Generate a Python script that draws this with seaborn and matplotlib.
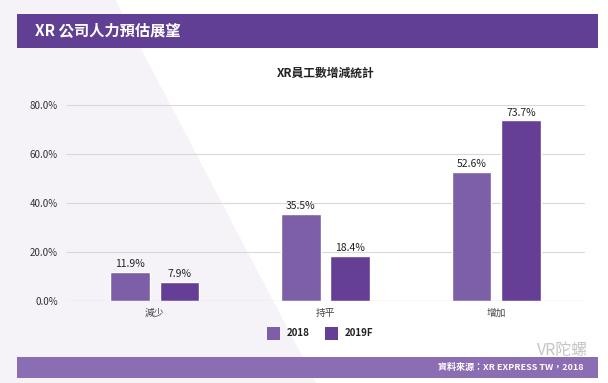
import numpy as np
import pandas as pd
import seaborn as sns
import matplotlib.pyplot as plt
from matplotlib.patches import Rectangle, Polygon

# Data
categories = ['減少', '持平', '增加']
years = ['2018', '2019F']
values_2018 = [11.9, 35.5, 52.6]
values_2019 = [7.9, 18.4, 73.7]
y_ticks = [0, 20, 40, 60, 80]

colors = ['#7d5fa8', '#653e96']

df = pd.DataFrame({
    'category': categories * 2,
    'year': [years[0]] * 3 + [years[1]] * 3,
    'value': values_2018 + values_2019,
})

sns.set_theme(style='white')
plt.rcParams['font.family'] = ['Noto Sans CJK TC', 'DejaVu Sans']

fig = plt.figure(figsize=(6.08, 3.83), dpi=100)
fig.patch.set_facecolor('white')

# Faint lavender diagonal shading in the background
fig.patches.append(Polygon([[0, 0], [0, 1], [0.19, 1], [0.52, 0]], closed=True,
                           transform=fig.transFigure, facecolor='#f5f2f8',
                           edgecolor='none', zorder=-5))

# Header bar
fig.patches.append(Rectangle((17 / 608, 1 - 48 / 383), 581 / 608, 34 / 383,
                             transform=fig.transFigure, facecolor='#603f95',
                             edgecolor='none', zorder=-1))
fig.text(35 / 608, 1 - 31 / 383, 'XR 公司人力預估展望', color='white',
         fontsize=11, fontweight='bold', va='center', ha='left')

# Footer bar
fig.patches.append(Rectangle((17 / 608, 1 - 378 / 383), 581 / 608, 21 / 383,
                             transform=fig.transFigure, facecolor='#8a6db2',
                             edgecolor='none', zorder=-1))
fig.text(583 / 608, 1 - 367 / 383, '資料來源：XR EXPRESS TW，2018', color='white',
         fontsize=6.5, fontweight='bold', va='center', ha='right')
fig.text(588 / 608, 1 - 350 / 383, 'VR陀螺', color='#c4c4c8',
         fontsize=11.5, va='center', ha='right')

ax = fig.add_axes([66 / 608, 1 - 301 / 383, 519 / 608, 196 / 383])
ax.set_facecolor('none')

sns.barplot(data=df, x='category', y='value', hue='year', palette=colors,
            width=0.58, gap=0.2, ax=ax, legend=False, saturation=1)

for container in ax.containers:
    ax.bar_label(container, labels=[f'{v:.1f}%' for v in container.datavalues],
                 padding=2, fontsize=7.5, color='#222222')

ax.set_xlim(-0.52, 2.52)
ax.set_ylim(0, 80)
ax.set_yticks(y_ticks)
ax.set_yticklabels([f'{t:.1f}%' for t in y_ticks], fontsize=7, color='#333333')
ax.yaxis.grid(True, color='#d9d9d9', linewidth=0.8)
ax.set_axisbelow(True)
ax.tick_params(axis='x', labelsize=7, colors='#444444', length=0, pad=5)
ax.tick_params(axis='y', length=0, pad=6)
ax.set_xlabel('')
ax.set_ylabel('')
for side in ['top', 'right', 'left', 'bottom']:
    ax.spines[side].set_visible(False)
ax.axhline(0, color='#cfcfcf', linewidth=0.8)

ax.set_title('XR員工數增減統計', fontsize=8.5, fontweight='bold', color='#222222', pad=20)

# Legend
for i, (yr, c) in enumerate(zip(years, colors)):
    x0 = [267, 325][i]
    fig.patches.append(Rectangle((x0 / 608, 1 - 340 / 383), 13 / 608, 13 / 383,
                                 transform=fig.transFigure, facecolor=c,
                                 edgecolor='none', zorder=2))
    fig.text((x0 + 20) / 608, 1 - 333.5 / 383, yr, fontsize=7, fontweight='bold',
             color='#222222', va='center', ha='left')

fig.savefig('out.png', dpi=100)
